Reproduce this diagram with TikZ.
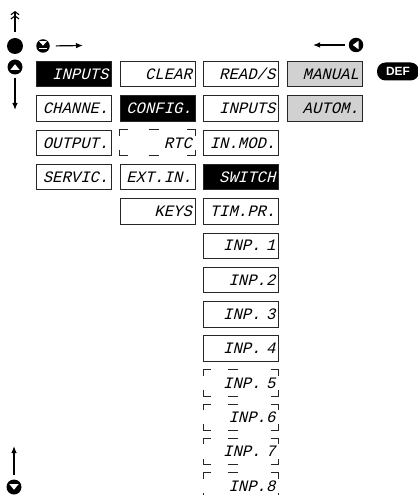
\documentclass[tikz,border=0pt]{standalone}
\usepackage{fontspec}
\setsansfont{Liberation Sans}
\newfontfamily\lcdfont[FakeSlant=0.25,FakeStretch=0.98]{Liberation Mono}
\usetikzlibrary{arrows.meta}
\tikzset{
  box/.style={draw=black!85, line width=0.8bp, minimum width=75bp, minimum height=25.5bp,
    anchor=north west, inner xsep=3bp, inner ysep=0bp, text width=69bp, align=right,
    font=\lcdfont\fontsize{16}{16}\selectfont},
  inv/.style={box, fill=black, text=white},
  grey/.style={box, fill=black!18},
  open/.style={box, draw=none},
  brk/.style={draw=black!85, line width=0.8bp},
  arr/.style={line width=1.2bp, -{Latex[length=7bp,width=5.5bp]}},
  dblarr/.style={line width=1.1bp, -{Straight Barb[length=3bp,width=8bp,line width=1.1bp] Straight Barb[length=3bp,width=8bp,line width=1.1bp]}},
  btn/.style={circle, fill=black, inner sep=0pt, minimum size=14bp},
}
\newcommand\brkbox[2]{%
  \draw[brk] ([xshift=8bp]#1.north west) -- (#1.north west) -- ([yshift=-6bp]#1.north west);
  \draw[brk] ([xshift=-8bp]#1.north east) -- (#1.north east) -- ([yshift=-6bp]#1.north east);
  \draw[brk] ([xshift=8bp]#1.south west) -- (#1.south west) -- ([yshift=6bp]#1.south west);
  \draw[brk] ([xshift=-8bp]#1.south east) -- (#1.south east) -- ([yshift=6bp]#1.south east);
  \draw[brk] ([xshift=#2]#1.north west) -- ([xshift=#2+10bp]#1.north west);
  \draw[brk] ([xshift=#2]#1.south west) -- ([xshift=#2+10bp]#1.south west);
}
\begin{document}
\begin{tikzpicture}[x=1bp,y=-1bp]
\useasboundingbox (0,0) rectangle (417,495);
% column 1
\node[inv]  (a0) at (36,61)    {INPUTS};
\node[box]  (a1) at (36,95.3)  {CHANNE.};
\node[box]  (a2) at (36,129.6) {OUTPUT.};
\node[box]  (a3) at (36,163.9) {SERVIC.};
% column 2
\node[box]  (b0) at (119.5,61)    {CLEAR};
\node[inv]  (b1) at (119.5,95.3)  {CONFIG.};
\node[open] (b2) at (119.5,129.6) {RTC};
\node[box]  (b3) at (119.5,163.9) {EXT.IN.};
\node[box]  (b4) at (119.5,198.2) {KEYS};
% column 3
\node[box]  (c0)  at (203,61)    {READ/S};
\node[box]  (c1)  at (203,95.3)  {INPUTS};
\node[box]  (c2)  at (203,129.6) {IN.MOD.};
\node[inv]  (c3)  at (203,163.9) {SWITCH};
\node[box]  (c4)  at (203,198.2) {TIM.PR.};
\node[box]  (c5)  at (203,232.5) {INP. 1};
\node[box]  (c6)  at (203,266.8) {INP.2};
\node[box]  (c7)  at (203,301.1) {INP. 3};
\node[box]  (c8)  at (203,335.4) {INP. 4};
\node[open] (c9)  at (203,369.7) {INP. 5};
\node[open] (c10) at (203,404)   {INP.6};
\node[open] (c11) at (203,438.3) {INP. 7};
\node[open] (c12) at (203,472.6) {INP.8};
% column 4
\node[grey] (d0) at (286.5,61)   {MANUAL};
\node[grey] (d1) at (286.5,95.3) {AUTOM.};
% bracket boxes
\brkbox{b2}{29bp}
\brkbox{c9}{25bp}
\brkbox{c10}{25bp}
\brkbox{c11}{25bp}
\brkbox{c12}{25bp}
% DEF
\node[fill=black, rounded corners=8.5bp, minimum width=42bp, minimum height=18bp, inner sep=0pt,
      text=white, font=\sffamily\bfseries\fontsize{12}{12}\selectfont] (def) at (398,71.5) {DEF};
% buttons and arrows
\node[btn, minimum size=16bp] (dot) at (15,46) {};
\coordinate (topend) at (15,11);
\draw[dblarr, shorten <=6bp] (dot.north) -- (topend);
\node[btn, minimum size=13.5bp] (enter) at (43,46) {};
\fill[white] (39,41.2) -- (47,41.2) -- (43,45.6) -- cycle;
\draw[white, line width=1.5bp] (39,48.4) -- (47,48.4);
\coordinate (enterend) at (83,45.5);
\draw[arr, shorten <=6bp] (enter.east) -- (enterend);
\node[btn, minimum size=15bp] (up) at (15,67) {};
\fill[white] (10.3,70) -- (19.7,70) -- (15,64.2) -- cycle;
\coordinate (upend) at (15,110);
\draw[arr, shorten <=3bp] (up.south) -- (upend);
\node[btn, minimum size=14.5bp] (left) at (356,45) {};
\fill[white] (358.5,40.8) -- (358.5,49.2) -- (352.8,45) -- cycle;
\coordinate (leftend) at (313,45);
\draw[arr, shorten <=4bp] (left.west) -- (leftend);
\node[btn, minimum size=15bp] (down) at (14,487) {};
\fill[white] (9.3,484) -- (18.7,484) -- (14,489.8) -- cycle;
\coordinate (downend) at (14,446);
\draw[arr, shorten <=4bp] (down.north) -- (downend);
\end{tikzpicture}
\end{document}
